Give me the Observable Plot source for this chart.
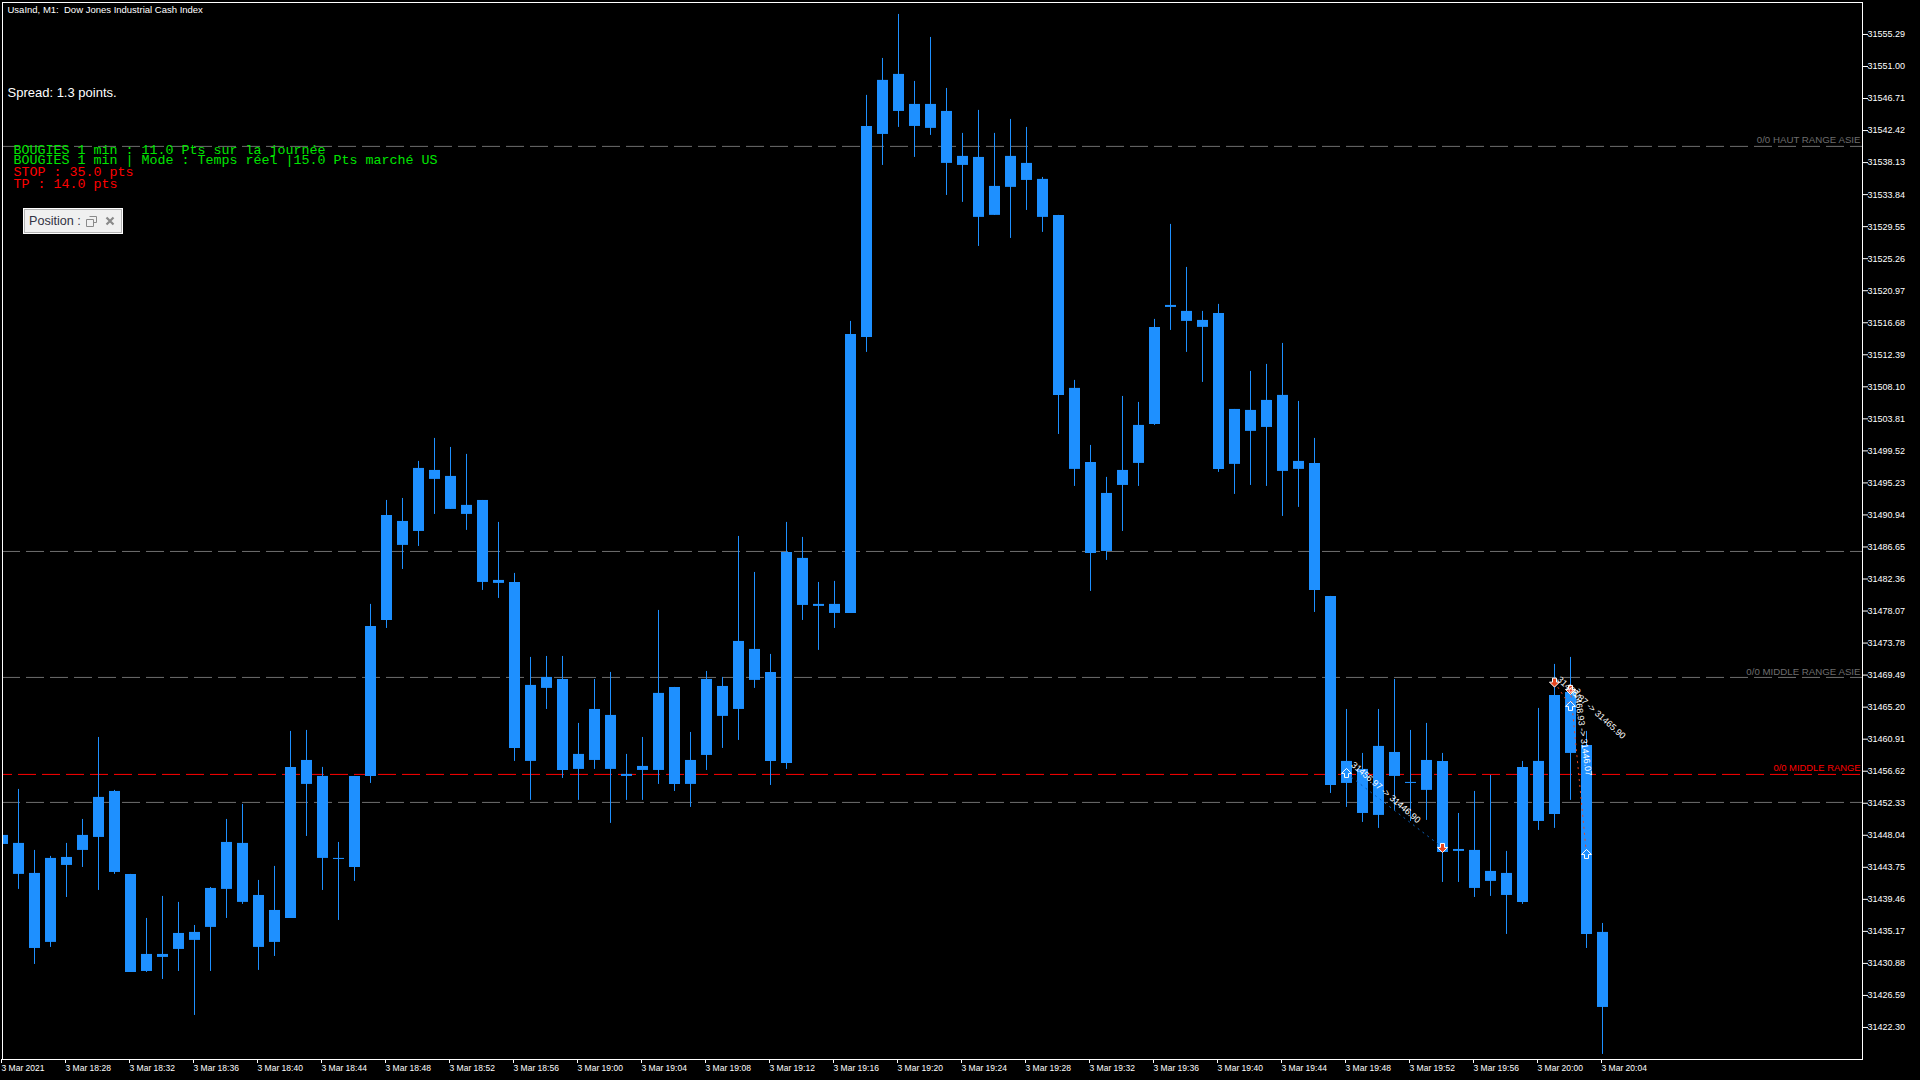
<!DOCTYPE html>
<html>
<head>
<meta charset="utf-8">
<script src="https://cdn.jsdelivr.net/npm/d3@7"></script>
<script src="https://cdn.jsdelivr.net/npm/@observablehq/plot@0.6"></script>
<style>
html,body{margin:0;padding:0;background:#000;width:1920px;height:1080px;overflow:hidden}
#chart{position:absolute;left:0;top:0}
#chart svg{display:block}
#pos{position:absolute;left:23px;top:208px;width:100px;height:26px;box-sizing:border-box;background:#f0f0f0;border:1px solid #fff;box-shadow:inset 0 0 0 1px #b4b4b4;font:12.6px "Liberation Sans",sans-serif;color:#334;line-height:25px;padding-left:5px;white-space:nowrap}
#pos svg{position:absolute;top:7px}
</style>
</head>
<body>
<div id="chart"></div>
<div id="pos">Position :
<svg style="left:62px" width="11" height="11" viewBox="0 0 11 11"><path d="M3.5 .5h7v6h-3M.5 3.5h7v7h-7z" fill="none" stroke="#8a8a8a"/></svg>
<svg style="left:81px" width="10" height="10" viewBox="0 0 10 10"><path d="M1.5 1.5l7 7M8.5 1.5l-7 7" fill="none" stroke="#8a8a8a" stroke-width="2.2"/></svg>
</div>
<script>
const high = [31448.02,31454.18,31446.01,31445.21,31446.95,31450.16,31461.14,31454.05,31442.80,31436.90,31439.85,31439.05,31435.96,31441.05,31450.16,31452.17,31441.99,31443.87,31461.95,31462.08,31457.13,31447.08,31455.92,31478.96,31492.88,31493.15,31498.11,31501.19,31499.98,31499.05,31492.88,31489.94,31483.11,31471.86,31471.99,31471.99,31463.02,31468.91,31469.85,31458.87,31461.14,31478.15,31467.84,31461.81,31469.98,31469.18,31488.06,31483.24,31472.26,31489.94,31487.93,31481.90,31482.04,31516.86,31547.13,31552.08,31557.97,31549.00,31554.89,31548.06,31542.04,31545.12,31542.04,31543.91,31542.84,31536.14,31531.06,31508.96,31500.25,31495.97,31506.81,31506.01,31517.13,31529.85,31524.09,31518.20,31519.14,31505.07,31510.16,31511.10,31513.91,31506.14,31501.19,31480.03,31464.89,31459.00,31464.89,31468.91,31462.08,31463.02,31459.00,31450.96,31453.91,31456.05,31445.88,31457.93,31465.03,31470.92,31471.86,31461.95,31436.23];
const bodyTop = [31448.02,31446.95,31442.93,31444.94,31445.07,31448.02,31453.11,31453.91,31442.80,31432.08,31432.08,31434.89,31435.03,31440.92,31447.08,31446.95,31439.98,31437.97,31457.13,31458.06,31455.92,31444.94,31455.92,31476.01,31490.88,31490.07,31497.17,31496.90,31496.10,31492.22,31492.88,31482.17,31481.90,31468.11,31469.18,31468.91,31458.87,31464.89,31464.09,31456.19,31457.26,31467.04,31467.84,31458.06,31468.91,31467.97,31474.00,31472.93,31469.85,31485.92,31485.12,31478.96,31478.96,31515.12,31542.97,31549.14,31549.94,31545.92,31545.92,31544.98,31538.96,31538.82,31534.94,31538.96,31538.02,31535.88,31531.06,31507.89,31497.97,31493.82,31496.90,31502.93,31516.06,31519.00,31518.20,31516.99,31517.93,31505.07,31504.94,31506.28,31506.95,31498.11,31497.84,31480.03,31457.93,31456.86,31459.94,31459.13,31455.12,31458.06,31457.93,31446.14,31446.01,31443.20,31442.93,31457.13,31457.93,31466.77,31467.17,31460.07,31435.03];
const bodyBottom = [31446.81,31442.80,31432.88,31433.69,31444.00,31446.01,31447.75,31443.06,31429.67,31429.80,31431.68,31432.75,31433.96,31435.70,31440.79,31439.05,31433.02,31433.69,31436.90,31454.85,31444.94,31444.80,31443.73,31455.92,31476.81,31486.86,31488.73,31495.70,31491.68,31491.01,31481.90,31481.77,31459.67,31457.93,31467.71,31456.72,31456.86,31458.06,31456.86,31455.92,31456.72,31456.72,31454.85,31454.85,31458.73,31463.96,31464.89,31468.78,31457.93,31457.66,31478.82,31478.69,31477.75,31477.75,31514.72,31541.90,31544.98,31542.97,31542.71,31538.02,31537.75,31530.79,31531.06,31534.81,31535.74,31530.79,31506.95,31497.04,31485.79,31486.05,31494.89,31497.84,31503.06,31518.73,31516.86,31516.06,31497.04,31497.71,31502.13,31502.66,31496.77,31497.04,31480.83,31454.71,31454.98,31450.96,31450.70,31455.92,31454.98,31454.05,31445.74,31445.88,31440.92,31441.86,31439.98,31439.05,31449.89,31450.83,31459.00,31434.76,31424.98];
const low = [31446.81,31440.79,31430.74,31433.02,31439.71,31443.73,31440.65,31442.80,31429.67,31429.67,31428.73,31429.80,31423.91,31429.80,31436.90,31438.78,31429.94,31431.81,31436.90,31447.88,31440.65,31436.63,31441.86,31454.98,31475.74,31483.64,31486.72,31491.01,31491.68,31488.87,31480.83,31479.76,31457.93,31452.71,31464.89,31455.65,31452.71,31456.86,31449.63,31452.71,31452.71,31454.85,31453.91,31451.77,31456.72,31459.67,31460.74,31467.71,31454.71,31456.86,31476.81,31472.80,31475.74,31477.75,31512.71,31537.75,31542.84,31538.82,31541.77,31533.73,31532.80,31526.90,31531.06,31527.97,31531.72,31528.78,31501.72,31494.76,31480.70,31484.85,31488.73,31494.76,31502.93,31515.65,31512.71,31508.69,31496.64,31493.69,31494.89,31494.76,31490.74,31491.95,31477.88,31453.64,31451.77,31449.76,31448.96,31451.37,31449.89,31450.03,31441.72,31441.72,31439.71,31439.85,31434.76,31438.78,31448.69,31448.96,31452.71,31432.88,31418.69];

const yTicks = [31555.29,31551.00,31546.71,31542.42,31538.13,31533.84,31529.55,31525.26,31520.97,31516.68,31512.39,31508.10,31503.81,31499.52,31495.23,31490.94,31486.65,31482.36,31478.07,31473.78,31469.49,31465.20,31460.91,31456.62,31452.33,31448.04,31443.75,31439.46,31435.17,31430.88,31426.59,31422.30];
const xTicks = [0,4,8,12,16,20,24,28,32,36,40,44,48,52,56,60,64,68,72,76,80,84,88,92,96,100];
const xTickLabels = ["3 Mar 2021","3 Mar 18:28","3 Mar 18:32","3 Mar 18:36","3 Mar 18:40","3 Mar 18:44","3 Mar 18:48","3 Mar 18:52","3 Mar 18:56","3 Mar 19:00","3 Mar 19:04","3 Mar 19:08","3 Mar 19:12","3 Mar 19:16","3 Mar 19:20","3 Mar 19:24","3 Mar 19:28","3 Mar 19:32","3 Mar 19:36","3 Mar 19:40","3 Mar 19:44","3 Mar 19:48","3 Mar 19:52","3 Mar 19:56","3 Mar 20:00","3 Mar 20:04"];

const greyLevels = [31540.30,31486.05,31469.18,31452.44];
const redLevels = [31456.19];
const greyLevelLabels = [{price:31540.30,label:"0/0 HAUT RANGE ASIE"},{price:31469.18,label:"0/0 MIDDLE RANGE ASIE"}];
const redLevelLabels = [{price:31456.19,label:"0/0 MIDDLE RANGE"}];

const buyTrade = [{i1:84,p1:31456.32,i2:90,p2:31446.41}];
const sellTrades = [{i1:97,p1:31468.55,i2:98,p2:31465.30},{i1:98,p1:31467.57,i2:99,p2:31445.47}];
const upArrows = [{i:84,p:31456.32},{i:98,p:31465.30},{i:99,p:31445.47}];
const downArrows = [{i:90,p:31446.41},{i:97,p:31468.55},{i:98,p:31467.57}];
const label1 = [{i:84,p:31456.32,t:"31456.97 -> 31446.90"}];
const label2 = [{i:97,p:31468.55,t:"31468.87 -> 31465.90"}];
const label3 = [{i:98,p:31467.57,t:"31468.93 -> 31446.07"}];

const headerLines = ["BOUGIES 1 min : 11.0 Pts sur la journée","BOUGIES 1 min | Mode : Temps réel |15.0 Pts marché US"];
const riskLines = ["STOP : 35.0 pts","TP : 14.0 pts"];

const candles = high.map((h,i)=>({i,h,t:bodyTop[i],b:bodyBottom[i],l:low[i]}));
const BLUE = "#1E90FF", GREY = "#6e6e6e";

const arrowUp = {draw(c){c.moveTo(0,-5);c.lineTo(5,0);c.lineTo(2,0);c.lineTo(2,4);c.lineTo(-2,4);c.lineTo(-2,0);c.lineTo(-5,0);c.closePath();}};
const arrowDown = {draw(c){c.moveTo(0,5);c.lineTo(5,0);c.lineTo(2,0);c.lineTo(2,-4);c.lineTo(-2,-4);c.lineTo(-2,0);c.lineTo(-5,0);c.closePath();}};
const sans = "Liberation Sans", mono = "Liberation Mono";

const note = (lines, opts) => lines.map((s,k)=>Plot.text([s],{frameAnchor:"top-left",textAnchor:"start",lineAnchor:"middle",...opts(k)}));

const chart = Plot.plot({
  width:1920,height:1080,
  marginLeft:2,marginRight:58,marginTop:2,marginBottom:21,
  style:{background:"#000",color:"#fff",fontFamily:sans,fontSize:"9px"},
  x:{type:"linear",domain:[0,116.25],range:[2,1862]},
  y:{type:"linear",domain:[31418.01,31559.57],range:[1059,2]},
  marks:[
    Plot.ruleY(greyLevels,{stroke:GREY,strokeWidth:1,strokeDasharray:"18,6"}),
    Plot.ruleY(redLevels,{stroke:"#f00",strokeWidth:1,strokeDasharray:"18,6",strokeDashoffset:8}),
    Plot.ruleX(candles,{x:"i",y1:"l",y2:"h",stroke:BLUE,strokeWidth:1,clip:true}),
    Plot.ruleX(candles,{x:"i",y1:"b",y2:"t",stroke:BLUE,strokeWidth:11,clip:true}),
    Plot.text(greyLevelLabels,{x:()=>116.25,y:"price",text:"label",fill:GREY,textAnchor:"end",dx:-2,dy:-6,fontSize:9.7}),
    Plot.text(redLevelLabels,{x:()=>116.25,y:"price",text:"label",fill:"#f00",textAnchor:"end",dx:-2,dy:-6,fontSize:9.4}),
    Plot.link(buyTrade,{x1:"i1",y1:"p1",x2:"i2",y2:"p2",stroke:"#0a5fb8",strokeWidth:1,strokeDasharray:"2,4"}),
    Plot.link(sellTrades,{x1:"i1",y1:"p1",x2:"i2",y2:"p2",stroke:"#e8451e",strokeWidth:1,strokeDasharray:"2,4"}),
    Plot.dot(upArrows,{x:"i",y:"p",symbol:arrowUp,r:5,fill:BLUE,stroke:"#fff",strokeWidth:1}),
    Plot.dot(downArrows,{x:"i",y:"p",symbol:arrowDown,r:5,fill:"#e8451e",stroke:"#fff",strokeWidth:1}),
    Plot.text(label1,{x:"i",y:"p",text:"t",rotate:41,textAnchor:"start",dx:6,dy:-10,fill:"#fff",fontSize:9}),
    Plot.text(label2,{x:"i",y:"p",text:"t",rotate:42,textAnchor:"start",dx:4,dy:-4,fill:"#fff",fontSize:9}),
    Plot.text(label3,{x:"i",y:"p",text:"t",rotate:82,textAnchor:"start",dx:6,dy:-1,fill:"#fff",fontSize:9}),
    Plot.text(["UsaInd, M1:\u00A0\u00A0Dow Jones Industrial Cash Index"],{frameAnchor:"top-left",textAnchor:"start",lineAnchor:"middle",dx:5,dy:7.5,fill:"#fff",fontSize:9.5}),
    Plot.text(["Spread: 1.3 points."],{frameAnchor:"top-left",textAnchor:"start",lineAnchor:"middle",dx:5,dy:90,fill:"#fff",fontSize:13}),
    ...note(headerLines,k=>({dx:11,dy:147+k*10,fill:"#00e600",fontFamily:mono,fontSize:13.33})),
    ...note(riskLines,k=>({dx:11,dy:169+k*12,fill:"#f00",fontFamily:mono,fontSize:13.33})),
    Plot.axisY(yTicks,{anchor:"right",tickSize:5,tickPadding:0,tickFormat:d=>d.toFixed(2),label:null,fontSize:9,stroke:"#fff",fill:"#fff"}),
    Plot.axisX(xTicks,{anchor:"bottom",tickSize:4,tickPadding:1,tickFormat:(d)=>xTickLabels[xTicks.indexOf(d)],label:null,textAnchor:"start",dx:-1,fontSize:8.5,stroke:"#fff",fill:"#fff"}),
    Plot.frame({stroke:"#fff",strokeWidth:1})
  ]
});
document.getElementById("chart").appendChild(chart);
</script>
</body>
</html>
